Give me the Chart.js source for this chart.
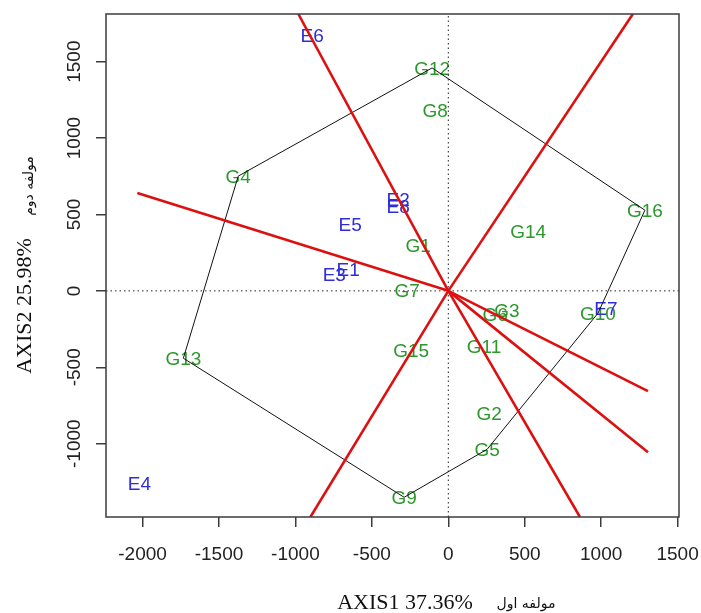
<!DOCTYPE html>
<html>
<head>
<meta charset="utf-8">
<script src="https://cdn.jsdelivr.net/npm/chart.js@4.4.0/dist/chart.umd.min.js"></script>
<style>
  html, body { margin: 0; padding: 0; background: #fff; }
  #wrap { width: 701px; height: 613px; }
</style>
</head>
<body>
<div id="wrap"><canvas id="myChart" width="701" height="613"></canvas></div>
<script>
// genotype scores (green labels)
const genotypes = ['G1', 'G2', 'G3', 'G4', 'G5', 'G6', 'G7', 'G8', 'G9', 'G10', 'G11', 'G12', 'G13', 'G14', 'G15', 'G16']
const genoX = [-197, 267, 384, -1374, 254, 306, -269, -86, -289, 979, 234, -106, -1733, 522, -243, 1286]
const genoY = [299, -801, -126, 751, -1037, -153, 5, 1183, -1351, -146, -362, 1459, -441, 391, -385, 528]

// environment scores (blue labels)
const envs = ['E1', 'E2', 'E3', 'E4', 'E5', 'E6', 'E7', 'E8']
const envX = [-655, -328, -746, -2021, -642, -890, 1031, -328]
const envY = [142, 601, 109, -1259, 437, 1675, -113, 555]

// polygon of the vertex genotypes
const hullOrder = ['G12', 'G16', 'G10', 'G5', 'G9', 'G13', 'G4', 'G12']

// red rays from the origin, end points
const rayEndX = [-981, -2034, -902, 861, 1306, 1306, 1207]
const rayEndY = [1812, 640, -1480, -1480, -1056, -656, 1812]

const xTicks = [-2000, -1500, -1000, -500, 0, 500, 1000, 1500]
const yTicks = [-1000, -500, 0, 500, 1000, 1500]
const xRange = [-2239, 1509]
const yRange = [-1480, 1812]

const xTitle = 'AXIS1 37.36%'
const xTitleFa = 'مولفه اول'
const yTitle = 'AXIS2 25.98%'
const yTitleFa = 'مولفه دوم'

const frameColor = '#3c3c3c'

function toPoints(xs, ys) {
  return xs.map((x, i) => ({ x: x, y: ys[i] }))
}

const hullPoints = hullOrder.map((name) => {
  const i = genotypes.indexOf(name)
  return { x: genoX[i], y: genoY[i] }
})

const datasets = []
for (let i = 0; i < rayEndX.length; i++) {
  datasets.push({
    data: [{ x: 0, y: 0 }, { x: rayEndX[i], y: rayEndY[i] }],
    showLine: true,
    borderColor: '#dd1010',
    borderWidth: 2.6,
    pointRadius: 0
  })
}
datasets.push({
  data: hullPoints,
  showLine: true,
  borderColor: '#111',
  borderWidth: 1,
  pointRadius: 0
})
datasets.push({
  data: [{ x: xRange[0], y: 0 }, { x: xRange[1], y: 0 }],
  showLine: true,
  borderColor: '#222',
  borderWidth: 1,
  borderDash: [1.5, 3],
  pointRadius: 0
})
datasets.push({
  data: [{ x: 0, y: yRange[0] }, { x: 0, y: yRange[1] }],
  showLine: true,
  borderColor: '#222',
  borderWidth: 1,
  borderDash: [1.5, 3],
  pointRadius: 0
})
const genoIndex = datasets.length
datasets.push({ data: toPoints(genoX, genoY), pointRadius: 0, showLine: false })
const envIndex = datasets.length
datasets.push({ data: toPoints(envX, envY), pointRadius: 0, showLine: false })

const biplotText = {
  id: 'biplotText',
  beforeDatasetsDraw(chart) {
    // labels go under the lines, like in the R plot
    const ctx = chart.ctx
    ctx.save()
    ctx.font = '19px "Liberation Sans", Arial, sans-serif'
    ctx.textAlign = 'center'
    ctx.textBaseline = 'alphabetic'
    ctx.fillStyle = '#2b982b'
    chart.getDatasetMeta(genoIndex).data.forEach((pt, i) => {
      ctx.fillText(genotypes[i], pt.x, pt.y + 7)
    })
    ctx.fillStyle = '#2e2ed8'
    chart.getDatasetMeta(envIndex).data.forEach((pt, i) => {
      ctx.fillText(envs[i], pt.x, pt.y + 7)
    })
    ctx.restore()
  },
  afterDraw(chart) {
    const ctx = chart.ctx
    const area = chart.chartArea
    const xs = chart.scales.x
    const ys = chart.scales.y
    ctx.save()

    ctx.strokeStyle = frameColor
    ctx.lineWidth = 1.5
    ctx.strokeRect(area.left, area.top, area.right - area.left, area.bottom - area.top)

    // tick labels
    ctx.fillStyle = '#222'
    ctx.font = '19px "Liberation Sans", Arial, sans-serif'
    ctx.textAlign = 'center'
    ctx.textBaseline = 'alphabetic'
    xTicks.forEach((v) => {
      ctx.fillText(String(v), xs.getPixelForValue(v), 560)
    })
    yTicks.forEach((v) => {
      ctx.save()
      ctx.translate(80, ys.getPixelForValue(v))
      ctx.rotate(-Math.PI / 2)
      ctx.fillText(String(v), 0, 0)
      ctx.restore()
    })

    // axis titles
    ctx.fillStyle = '#111'
    ctx.font = '22px "Liberation Serif", "Times New Roman", serif'
    ctx.fillText(xTitle, 405, 609)
    ctx.font = '14px "DejaVu Sans", sans-serif'
    ctx.fillText(xTitleFa, 526, 608)

    ctx.save()
    ctx.translate(31, 306)
    ctx.rotate(-Math.PI / 2)
    ctx.font = '22px "Liberation Serif", "Times New Roman", serif'
    ctx.fillText(yTitle, 0, 0)
    ctx.restore()

    ctx.save()
    ctx.translate(33, 186)
    ctx.rotate(-Math.PI / 2)
    ctx.font = '14px "DejaVu Sans", sans-serif'
    ctx.fillText(yTitleFa, 0, 0)
    ctx.restore()

    ctx.restore()
  }
}

const ctx = document.getElementById('myChart')
const myChart = new Chart(ctx, {
  type: 'scatter',
  data: { datasets: datasets },
  options: {
    responsive: false,
    animation: false,
    layout: { padding: { left: 106, right: 22, top: 14, bottom: 96 } },
    plugins: {
      legend: { display: false },
      tooltip: { enabled: false }
    },
    scales: {
      x: {
        type: 'linear',
        position: 'bottom',
        min: xRange[0],
        max: xRange[1],
        afterBuildTicks: (scale) => { scale.ticks = xTicks.map((v) => ({ value: v })) },
        afterFit: (scale) => { scale.height = 0 },
        ticks: { display: false },
        grid: { drawOnChartArea: false, drawTicks: true, tickLength: 10, color: frameColor, lineWidth: 1.5 },
        border: { display: false }
      },
      y: {
        type: 'linear',
        position: 'left',
        min: yRange[0],
        max: yRange[1],
        afterBuildTicks: (scale) => { scale.ticks = yTicks.map((v) => ({ value: v })) },
        afterFit: (scale) => { scale.width = 0 },
        ticks: { display: false },
        grid: { drawOnChartArea: false, drawTicks: true, tickLength: 10, color: frameColor, lineWidth: 1.5 },
        border: { display: false }
      }
    }
  },
  plugins: [biplotText]
})
</script>
</body>
</html>
